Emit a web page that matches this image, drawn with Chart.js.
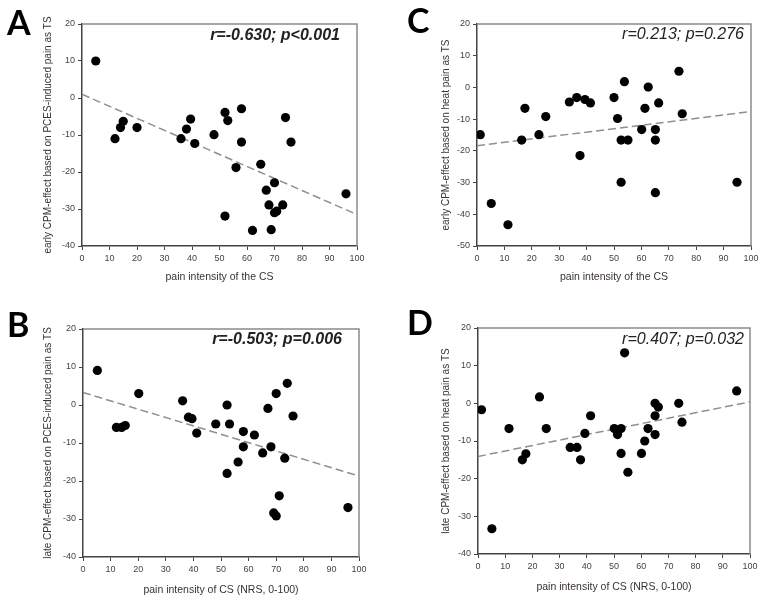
<!DOCTYPE html>
<html>
<head>
<meta charset="utf-8">
<script src="https://cdn.jsdelivr.net/npm/chart.js@4.4.1/dist/chart.umd.min.js"></script>
<style>
body { margin: 0; background: #fff; }
#wrap { position: relative; width: 763px; height: 602px; }
canvas { position: absolute; }
</style>
</head>
<body>
<div id="wrap">
  <canvas id="chartA" width="380" height="300" style="left:0;top:0"></canvas>
  <canvas id="chartC" width="383" height="300" style="left:380px;top:0"></canvas>
  <canvas id="chartB" width="380" height="302" style="left:0;top:300px"></canvas>
  <canvas id="chartD" width="383" height="302" style="left:380px;top:300px"></canvas>
</div>
<script>
// values
// A/B share the CS pain ratings, C/D share theirs
const painAB = [5, 12, 14, 15, 20, 36, 38, 39.5, 41, 48, 52, 53, 58, 58, 56, 52, 62, 65, 67, 68, 70, 68.8, 70, 70.8, 73, 74, 76, 96];
const earlyPCES = [10, -11, -8, -6.3, -8, -11, -8.4, -5.7, -12.3, -9.9, -3.9, -6.1, -2.9, -11.9, -18.8, -31.9, -35.8, -17.9, -24.9, -28.9, -22.9, -35.6, -31, -30.6, -28.9, -5.3, -11.9, -25.9];

const painB = [5.2, 12.1, 14, 15.3, 20.2, 36.1, 38.2, 39.5, 41.2, 48.1, 52.2, 53.1, 52.2, 56.2, 58.1, 58.1, 62.1, 65.1, 67, 68.1, 69.1, 70, 70, 71.1, 73.1, 74, 76.1, 96];
const latePCES = [9.1, -5.9, -5.9, -5.4, 3, 1.1, -3.2, -3.6, -7.4, -5, 0, -5, -18, -15, -7, -11, -7.9, -12.6, -0.9, -11, -28.4, -29.2, 3, -23.9, -14, 5.7, -2.9, -27];

const painCD = [1.2, 5.2, 11.3, 16.3, 17.5, 22.6, 25.1, 33.7, 36.4, 37.6, 39.4, 41.4, 50, 51.3, 52.6, 52.6, 53.8, 55.1, 60.1, 61.3, 62.5, 65.1, 65.1, 65.1, 66.3, 73.7, 74.9, 94.9];
const earlyHeat = [-14.9, -36.6, -43.3, -16.6, -6.6, -14.9, -9.2, -4.6, -3.2, -21.5, -3.8, -4.9, -3.2, -9.8, -16.6, -29.9, 1.8, -16.6, -13.3, -6.6, 0.1, -13.3, -16.6, -33.2, -4.9, 5.1, -8.3, -29.9];

const painD = [1.3, 5.1, 11.4, 16.3, 17.6, 22.6, 25.1, 33.9, 36.4, 37.7, 39.3, 41.4, 50.1, 51.3, 52.6, 52.6, 53.9, 55.1, 60.1, 61.3, 62.5, 65.1, 65.1, 65.1, 66.3, 73.8, 75, 95.1];
const lateHeat = [-1.7, -33.3, -6.7, -15, -13.4, 1.7, -6.7, -11.7, -11.7, -15, -8, -3.3, -6.7, -8.3, -6.7, -13.3, 13.4, -18.3, -13.3, -10, -6.7, 0, -3.3, -8.3, -1, 0, -5, 3.3];

// regression lines, value at x=0 and x=100
const trendX = [0, 100];
const trendA = [1.0, -31.5];
const trendB = [3.3, -18.7];
const trendC = [-18.4, -7.6];
const trendD = [-14.1, 0.4];

const xTicks = [0, 10, 20, 30, 40, 50, 60, 70, 80, 90, 100];

// frame on top/right + panel letter + r/p note
const panelText = {
    id: 'panelText',
    afterDraw(chart, args, opts) {
        const ctx = chart.ctx;
        const a = chart.chartArea;
        ctx.save();
        ctx.strokeStyle = '#8a8a8a';
        ctx.lineWidth = 1.5;
        ctx.beginPath();
        ctx.moveTo(a.left, a.top);
        ctx.lineTo(a.right, a.top);
        ctx.lineTo(a.right, a.bottom);
        ctx.stroke();

        ctx.fillStyle = '#000';
        ctx.textAlign = 'left';
        ctx.textBaseline = 'alphabetic';
        ctx.font = 'bold 34px Lato';
        ctx.fillText(opts.letter, opts.letterX, opts.letterY);

        ctx.fillStyle = '#222';
        ctx.textAlign = 'right';
        ctx.font = (opts.bold ? 'italic bold ' : 'italic ') + '16px "Liberation Sans"';
        ctx.fillText(opts.note, a.right - opts.noteInset, opts.noteY);
        ctx.restore();
    }
};

function makePanel(id, p) {
    const canvas = document.getElementById(id);
    const W = canvas.width, H = canvas.height;
    const points = p.xs.map(function (x, i) { return { x: x, y: p.ys[i] }; });
    const line = trendX.map(function (x, i) { return { x: x, y: p.trend[i] }; });

    return new Chart(canvas, {
        type: 'scatter',
        data: {
            datasets: [{
                data: points,
                backgroundColor: '#000',
                borderWidth: 0,
                pointRadius: 4.6
            }, {
                data: line,
                showLine: true,
                borderColor: '#8f8f8f',
                borderWidth: 1.5,
                borderDash: [8, 4],
                pointRadius: 0
            }]
        },
        options: {
            responsive: false,
            animation: false,
            layout: { padding: { left: 0, top: p.area[1], right: W - p.area[2], bottom: 0 } },
            plugins: {
                legend: { display: false },
                tooltip: { enabled: false },
                panelText: {
                    letter: p.letter, letterX: p.letterPos[0], letterY: p.letterPos[1],
                    note: p.note, bold: p.bold, noteInset: p.noteInset, noteY: p.noteY
                }
            },
            scales: {
                x: {
                    type: 'linear',
                    min: 0, max: 100,
                    afterBuildTicks: function (s) { s.ticks = xTicks.map(function (v) { return { value: v }; }); },
                    afterFit: function (s) { s.height = H - p.area[3]; },
                    grid: { drawOnChartArea: false, tickLength: 4, tickColor: '#444', tickWidth: 1 },
                    border: { color: '#444', width: 1.5 },
                    ticks: { color: '#444', font: { family: 'Liberation Sans', size: 9 }, padding: 3, maxRotation: 0 },
                    title: { display: true, text: p.xTitle, color: '#3a3232',
                        font: { family: 'Liberation Sans', size: 10.5 }, padding: { top: 0, bottom: p.xTitlePad } }
                },
                y: {
                    min: p.yMin, max: 20,
                    afterBuildTicks: function (s) { s.ticks = p.yTicks.map(function (v) { return { value: v }; }); },
                    afterFit: function (s) { s.width = p.area[0]; },
                    grid: { drawOnChartArea: false, tickLength: 4, tickColor: '#444', tickWidth: 1 },
                    border: { color: '#444', width: 1.5 },
                    ticks: { color: '#444', font: { family: 'Liberation Sans', size: 9 }, padding: 3 },
                    title: { display: true, text: p.yTitle, color: '#3a3232',
                        font: { family: 'Liberation Sans', size: 10 }, padding: { top: p.yTitlePad, bottom: 0 } }
                }
            }
        },
        plugins: [panelText]
    });
}

makePanel('chartA', {
    xs: painAB, ys: earlyPCES, trend: trendA,
    area: [82, 24, 357, 246], yMin: -40, yTicks: [-40, -30, -20, -10, 0, 10, 20],
    letter: 'A', letterPos: [7, 35], note: 'r=-0.630; p<0.001', bold: true, noteInset: 17, noteY: 39.5,
    xTitle: 'pain intensity of the CS', xTitlePad: 16.5,
    yTitle: 'early CPM-effect based on PCES-induced pain as TS', yTitlePad: 42
});

makePanel('chartC', {
    xs: painCD, ys: earlyHeat, trend: trendC,
    area: [97, 24, 371, 246], yMin: -50, yTicks: [-50, -40, -30, -20, -10, 0, 10, 20],
    letter: 'C', letterPos: [27, 33], note: 'r=0.213; p=0.276', bold: false, noteInset: 7, noteY: 39,
    xTitle: 'pain intensity of the CS', xTitlePad: 16.5,
    yTitle: 'early CPM-effect based on heat pain as TS', yTitlePad: 60
});

makePanel('chartB', {
    xs: painB, ys: latePCES, trend: trendB,
    area: [83, 29, 359, 257], yMin: -40, yTicks: [-40, -30, -20, -10, 0, 10, 20],
    letter: 'B', letterPos: [7, 37], note: 'r=-0.503; p=0.006', bold: true, noteInset: 17, noteY: 44,
    xTitle: 'pain intensity of CS (NRS, 0-100)', xTitlePad: 5.7,
    yTitle: 'late CPM-effect based on PCES-induced pain as TS', yTitlePad: 42
});

makePanel('chartD', {
    xs: painD, ys: lateHeat, trend: trendD,
    area: [98, 28, 370, 254], yMin: -40, yTicks: [-40, -30, -20, -10, 0, 10, 20],
    letter: 'D', letterPos: [27, 35], note: 'r=0.407; p=0.032', bold: false, noteInset: 6, noteY: 44,
    xTitle: 'pain intensity of CS (NRS, 0-100)', xTitlePad: 8.7,
    yTitle: 'late CPM-effect based on heat pain as TS', yTitlePad: 60
});
</script>
</body>
</html>
